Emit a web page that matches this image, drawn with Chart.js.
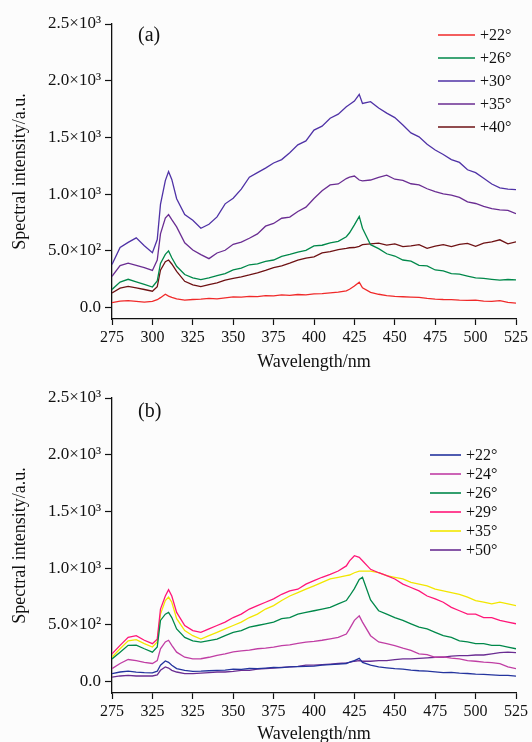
<!DOCTYPE html>
<html>
<head>
<meta charset="utf-8">
<script src="https://cdn.jsdelivr.net/npm/chart.js@4.4.0/dist/chart.umd.min.js"></script>
<style>
  html, body { margin: 0; padding: 0; background: #fcfcfc; overflow: hidden; }
  .panel { position: absolute; left: 0; width: 532px; }
  #wrapA { top: 0; height: 375px; }
  #wrapB { top: 375px; height: 380px; }
</style>
</head>
<body>
<div class="panel" id="wrapA"><canvas id="chartA"></canvas></div>
<div class="panel" id="wrapB"><canvas id="chartB"></canvas></div>
<script>
// ---- data (wavelength in nm, intensity in a.u.) ----
const wavelength = [275,280,285,290,295,300,303,305,308,310,312,315,320,325,330,335,340,345,350,355,360,365,370,375,380,385,390,395,400,405,410,415,420,422,425,428,430,435,440,445,450,455,460,465,470,475,480,485,490,495,500,505,510,515,520,525];

// panel (a)
const a22 = [45,58,62,55,48,55,70,88,118,102,90,78,66,72,75,82,78,86,95,92,100,98,106,104,112,108,116,113,121,124,130,136,148,162,190,225,175,135,118,106,100,96,93,90,82,76,72,70,66,64,66,58,56,62,46,40];
const a26 = [160,225,250,228,205,182,235,390,470,500,440,365,292,262,248,262,282,300,332,348,378,386,408,420,452,470,490,505,545,550,570,585,625,660,730,805,700,555,520,475,455,420,410,372,368,332,325,300,295,278,262,258,250,242,248,245];
const a30 = [380,530,575,615,545,485,600,910,1120,1200,1130,960,820,770,700,735,800,915,965,1045,1150,1190,1230,1275,1305,1365,1435,1470,1565,1600,1670,1705,1770,1790,1820,1880,1800,1815,1760,1715,1675,1610,1540,1505,1440,1390,1350,1305,1280,1215,1190,1140,1090,1055,1045,1040];
const a35 = [275,370,392,372,352,328,420,650,790,820,775,712,572,508,468,432,482,506,558,578,612,650,718,742,788,798,848,886,962,1030,1082,1090,1138,1150,1160,1125,1118,1125,1148,1168,1132,1122,1092,1082,1048,1022,1002,992,972,932,918,892,872,862,858,828];
const a40 = [130,172,188,175,160,145,185,330,405,420,385,320,232,200,185,202,218,242,258,272,288,306,328,352,368,392,418,436,448,482,494,512,522,528,530,540,555,562,568,552,562,538,545,556,522,542,556,538,558,566,540,568,580,598,562,580];

// panel (b)
const b22 = [70,85,92,84,80,78,92,145,182,170,145,115,100,90,92,96,100,102,110,108,116,114,120,126,124,130,132,135,136,145,150,155,160,172,185,205,170,145,130,122,115,110,102,96,92,86,80,82,75,72,66,65,60,56,55,48];
const b24 = [115,160,195,185,170,160,185,290,350,365,320,260,215,200,202,215,232,245,262,272,278,290,295,305,318,325,338,348,355,365,378,390,420,465,540,580,525,405,350,335,318,295,275,245,238,215,218,208,200,185,180,172,168,158,130,115];
const b26 = [200,260,320,322,290,260,305,540,595,610,565,465,390,360,348,362,375,405,435,450,480,495,510,525,555,565,595,610,625,640,655,685,715,755,820,900,920,720,625,595,565,540,510,480,465,435,405,390,360,350,335,335,320,320,305,290];
const b29 = [245,320,390,405,365,335,375,640,755,810,755,610,495,450,435,465,495,525,565,595,640,670,700,730,770,800,815,860,890,920,945,975,1020,1065,1110,1095,1065,990,960,935,905,860,830,800,755,730,700,655,625,595,595,565,565,540,525,510];
const b35 = [215,290,360,370,335,305,350,595,715,745,700,555,450,405,375,405,435,465,495,525,565,595,640,670,715,755,785,815,845,875,905,920,935,940,960,975,975,975,960,935,920,905,875,860,845,815,800,785,770,745,715,700,685,700,685,670];
const b50 = [40,50,55,50,50,50,60,100,130,120,100,85,70,70,75,80,85,85,90,100,100,110,115,120,125,130,135,145,145,150,155,160,165,170,180,185,180,180,185,185,195,200,200,205,210,215,215,225,230,230,235,235,245,255,260,255];

const labelsA = ['+22°', '+26°', '+30°', '+35°', '+40°'];
const colorsA = ['#f02a2a', '#00884a', '#4f32a6', '#6a2d92', '#6e1214'];
const labelsB = ['+22°', '+24°', '+26°', '+29°', '+35°', '+50°'];
const colorsB = ['#24349e', '#c03ea4', '#00884a', '#ff1678', '#f2e600', '#6a2d92'];

const yTickLabels = ['0.0', '5.0×10²', '1.0×10³', '1.5×10³', '2.0×10³', '2.5×10³'];
const xTickLabelsA = ['275','300','325','350','375','400','425','450','475','500','525'];
const xTickLabelsB = ['275','325','325','350','375','400','425','450','475','500','525'];

const FONT = "'Liberation Serif', 'Times New Roman', serif";

// ---- legend drawn inside the plot area, at the figure's spot ----
const insideLegend = {
  id: 'insideLegend',
  afterDatasetsDraw(chart, args, opts) {
    const ctx = chart.ctx;
    ctx.save();
    ctx.font = '16px ' + FONT;
    ctx.textBaseline = 'middle';
    ctx.fillStyle = '#111';
    chart.data.datasets.forEach((ds, i) => {
      const y = opts.y + i * opts.gap;
      ctx.strokeStyle = ds.borderColor;
      ctx.lineWidth = 1.6;
      ctx.beginPath();
      ctx.moveTo(opts.x, y);
      ctx.lineTo(opts.x + opts.len, y);
      ctx.stroke();
      ctx.fillText(ds.label, opts.x + opts.len + 5, y + 1);
    });
    ctx.restore();
  }
};

const panelLabel = {
  id: 'panelLabel',
  afterDraw(chart, args, opts) {
    const ctx = chart.ctx;
    ctx.save();
    ctx.font = '20px ' + FONT;
    ctx.fillStyle = '#111';
    ctx.textBaseline = 'middle';
    ctx.fillText(opts.text, opts.x, opts.y);
    ctx.restore();
  }
};

function makeDatasets(series, labels, colors) {
  return series.map((s, i) => ({
    label: labels[i],
    data: wavelength.map((w, j) => ({ x: w, y: s[j] })),
    borderColor: colors[i],
    backgroundColor: colors[i],
    borderWidth: 1.3,
    pointRadius: 0,
    tension: 0,
    fill: false
  }));
}

function makeChart(canvasId, datasets, xLabels, cfg) {
  return new Chart(document.getElementById(canvasId), {
    type: 'line',
    data: { datasets: datasets },
    options: {
      responsive: true,
      maintainAspectRatio: false,
      animation: false,
      events: [],
      layout: { padding: { top: cfg.padTop, right: 16, left: 0, bottom: 0 } },
      plugins: {
        legend: { display: false },
        tooltip: { enabled: false },
        insideLegend: cfg.legend,
        panelLabel: cfg.panel
      },
      scales: {
        x: {
          type: 'linear',
          min: 275,
          max: 525,
          afterFit: s => { s.height = cfg.xHeight; },
          afterBuildTicks: s => { s.ticks = xLabels.map((t, i) => ({ value: 275 + i * 25 })); },
          ticks: {
            color: '#111',
            padding: 3,
            maxRotation: 0,
            autoSkip: false,
            font: { family: FONT, size: 16 },
            callback: v => xLabels[Math.round((v - 275) / 25)]
          },
          grid: { drawOnChartArea: false, drawTicks: true, tickLength: 6, color: '#111', tickWidth: 1.2 },
          border: { color: '#111', width: 1.3 },
          title: { display: true, text: 'Wavelength/nm', color: '#111', font: { family: FONT, size: 18 }, padding: { top: 0, bottom: cfg.xTitlePad } }
        },
        y: {
          min: -100,
          max: 2500,
          afterFit: s => { s.width = 112; },
          afterBuildTicks: s => { s.ticks = yTickLabels.map((t, i) => ({ value: i * 500 })); },
          ticks: {
            color: '#111',
            padding: 4,
            autoSkip: false,
            font: { family: FONT, size: 17 },
            callback: v => yTickLabels[Math.round(v / 500)]
          },
          grid: { drawOnChartArea: false, drawTicks: true, tickLength: 7, color: '#111', tickWidth: 1.2 },
          border: { color: '#111', width: 1.3 },
          title: { display: true, text: 'Spectral intensity/a.u.', color: '#111', font: { family: FONT, size: 18 }, padding: { top: 9, bottom: 0 } }
        }
      }
    },
    plugins: [insideLegend, panelLabel]
  });
}

makeChart('chartA', makeDatasets([a22, a26, a30, a35, a40], labelsA, colorsA), xTickLabelsA, {
  padTop: 24, xHeight: 56, xTitlePad: 2,
  legend: { x: 438, y: 35, gap: 23, len: 37 },
  panel: { text: '(a)', x: 138, y: 36 }
});

makeChart('chartB', makeDatasets([b22, b24, b26, b29, b35, b50], labelsB, colorsB), xTickLabelsB, {
  padTop: 23, xHeight: 62, xTitlePad: 10,
  legend: { x: 430, y: 80, gap: 19, len: 31 },
  panel: { text: '(b)', x: 138, y: 37 }
});
</script>
</body>
</html>
